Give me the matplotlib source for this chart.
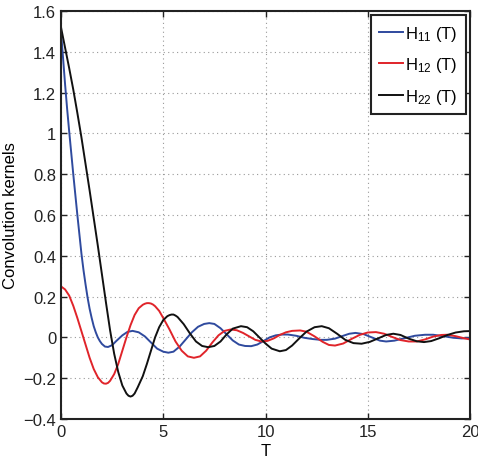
import matplotlib
matplotlib.use("Agg")
import matplotlib.pyplot as plt

# H11(T)
t_h11 = [0, 0.1, 0.2, 0.3, 0.4, 0.5, 0.6, 0.7, 0.8, 0.9, 1.0, 1.1, 1.2, 1.3, 1.4, 1.5, 1.6,
         1.7, 1.8, 1.9, 2.0, 2.15, 2.3, 2.5, 2.7, 3.0, 3.25, 3.5, 3.8, 4.1, 4.4, 4.7, 5.0,
         5.25, 5.5, 5.8, 6.1, 6.4, 6.7, 7.0, 7.25, 7.5, 7.8, 8.1, 8.4, 8.7, 9.0, 9.3, 9.6,
         9.9, 10.2, 10.5, 10.8, 11.1, 11.5, 11.9, 12.3, 12.7, 13.0, 13.4, 13.8, 14.1, 14.4,
         14.8, 15.2, 15.6, 15.9, 16.3, 16.8, 17.3, 17.8, 18.2, 18.7, 19.2, 19.6, 20.0]
h11 = [1.50, 1.37, 1.24, 1.12, 1.01, 0.905, 0.80, 0.70, 0.60, 0.505, 0.41, 0.33, 0.26, 0.195,
       0.14, 0.095, 0.055, 0.025, 0.0, -0.018, -0.032, -0.045, -0.047, -0.038, -0.018, 0.01,
       0.027, 0.032, 0.025, 0.005, -0.025, -0.055, -0.07, -0.075, -0.07, -0.045, -0.01, 0.025,
       0.052, 0.066, 0.07, 0.066, 0.045, 0.015, -0.015, -0.035, -0.042, -0.043, -0.035,
       -0.018, 0.0, 0.01, 0.014, 0.014, 0.008, -0.002, -0.008, -0.012, -0.012, -0.006, 0.008,
       0.018, 0.022, 0.016, 0.0, -0.016, -0.02, -0.016, -0.004, 0.008, 0.013, 0.013, 0.006,
       -0.002, -0.005, -0.003]

# H12(T)
t_h12 = [0, 0.2, 0.4, 0.6, 0.8, 1.0, 1.2, 1.4, 1.6, 1.8, 2.0, 2.1, 2.2, 2.3, 2.4, 2.6, 2.8,
         3.0, 3.2, 3.4, 3.6, 3.8, 4.0, 4.1, 4.2, 4.3, 4.4, 4.5, 4.6, 4.8, 5.0, 5.3, 5.6, 5.9,
         6.2, 6.5, 6.8, 7.1, 7.4, 7.7, 8.0, 8.3, 8.6, 8.9, 9.2, 9.5, 9.8, 10.1, 10.4, 10.7,
         11.0, 11.3, 11.7, 12.0, 12.4, 12.8, 13.1, 13.4, 13.8, 14.2, 14.6, 15.0, 15.4, 15.8,
         16.2, 16.6, 17.0, 17.4, 17.8, 18.2, 18.6, 18.9, 19.3, 19.7, 20.0]
h12 = [0.25, 0.235, 0.205, 0.155, 0.095, 0.03, -0.035, -0.10, -0.155, -0.195, -0.22, -0.226,
       -0.227, -0.223, -0.213, -0.18, -0.13, -0.065, 0.0, 0.06, 0.11, 0.143, 0.160, 0.165,
       0.168, 0.168, 0.166, 0.161, 0.153, 0.13, 0.095, 0.04, -0.02, -0.065, -0.093, -0.10,
       -0.093, -0.065, -0.025, 0.01, 0.032, 0.039, 0.035, 0.022, 0.005, -0.012, -0.02, -0.017,
       -0.005, 0.012, 0.025, 0.032, 0.034, 0.028, 0.005, -0.022, -0.037, -0.04, -0.03,
       -0.008, 0.012, 0.024, 0.026, 0.018, 0.002, -0.013, -0.02, -0.02, -0.01, 0.004, 0.012,
       0.013, 0.006, -0.004, -0.01]

# H22(T)
t_h22 = [0, 0.2, 0.4, 0.6, 0.8, 1.0, 1.2, 1.4, 1.6, 1.8, 2.0, 2.2, 2.4, 2.6, 2.8, 3.0, 3.2,
         3.3, 3.4, 3.5, 3.6, 3.75, 4.0, 4.2, 4.4, 4.6, 4.8, 5.0, 5.2, 5.3, 5.4, 5.5, 5.6, 5.7,
         6.0, 6.3, 6.6, 6.9, 7.2, 7.5, 7.8, 8.1, 8.4, 8.8, 9.1, 9.4, 9.7, 10.0, 10.3, 10.7,
         11.0, 11.3, 11.7, 12.0, 12.4, 12.75, 13.1, 13.5, 13.9, 14.3, 14.7, 15.1, 15.5, 15.9,
         16.25, 16.6, 17.0, 17.4, 17.75, 18.1, 18.5, 18.9, 19.3, 19.7, 20.0]
h22 = [1.52, 1.42, 1.32, 1.215, 1.10, 0.98, 0.85, 0.72, 0.585, 0.45, 0.31, 0.17, 0.035, -0.08,
       -0.17, -0.236, -0.275, -0.286, -0.29, -0.286, -0.275, -0.245, -0.19, -0.13, -0.065,
       0.0, 0.05, 0.085, 0.104, 0.109, 0.112, 0.112, 0.107, 0.10, 0.065, 0.02, -0.02, -0.042,
       -0.048, -0.042, -0.02, 0.015, 0.043, 0.055, 0.05, 0.03, 0.0, -0.03, -0.055, -0.068,
       -0.062, -0.04, 0.0, 0.028, 0.05, 0.055, 0.045, 0.018, -0.012, -0.028, -0.031, -0.022,
       -0.005, 0.012, 0.018, 0.012, -0.006, -0.019, -0.023, -0.018, -0.004, 0.012, 0.024,
       0.03, 0.031]

labels = [r"H$_{11}$ (T)", r"H$_{12}$ (T)", r"H$_{22}$ (T)"]
x_ticks = [0, 5, 10, 15, 20]
y_ticks = [-0.4, -0.2, 0, 0.2, 0.4, 0.6, 0.8, 1, 1.2, 1.4, 1.6]
y_tick_labels = ["\u22120.4", "\u22120.2", "0", "0.2", "0.4", "0.6", "0.8", "1", "1.2", "1.4", "1.6"]

plt.rcParams["font.family"] = ["Liberation Sans", "DejaVu Sans"]
plt.rcParams["mathtext.fontset"] = "custom"
plt.rcParams["mathtext.rm"] = "Liberation Sans"
plt.rcParams["mathtext.it"] = "Liberation Sans"

fig = plt.figure(figsize=(4.78, 4.60), dpi=100)
ax = fig.add_axes([61 / 478, 1 - 420 / 460, 409 / 478, 408 / 460])

ax.plot(t_h11, h11, color="#2f4a9e", lw=1.4, label=labels[0])
ax.plot(t_h12, h12, color="#e0242a", lw=1.4, label=labels[1])
ax.plot(t_h22, h22, color="#111111", lw=1.4, label=labels[2])

ax.set_xlim(0, 20)
ax.set_ylim(-0.4, 1.6)
ax.set_xticks(x_ticks)
ax.set_yticks(y_ticks)
ax.set_yticklabels(y_tick_labels)
ax.tick_params(direction="in", top=True, right=True, labelsize=12, length=4, width=1, colors="#222222")
ax.grid(True, linestyle=(0, (1, 3)), color="#999999", lw=0.8)
for s in ax.spines.values():
    s.set_linewidth(1.5)
    s.set_color("#222222")

ax.set_xlabel("T", fontsize=12, labelpad=3)
ax.set_ylabel("Convolution kernels", fontsize=12, labelpad=4)

leg = ax.legend(loc="upper right", fontsize=12, fancybox=False, framealpha=1,
                edgecolor="#222222", handlelength=1.4, handletextpad=0.15,
                labelspacing=0.75, borderaxespad=0.25, borderpad=0.5)
leg.get_frame().set_linewidth(1.5)

fig.savefig("out.png", dpi=100)
